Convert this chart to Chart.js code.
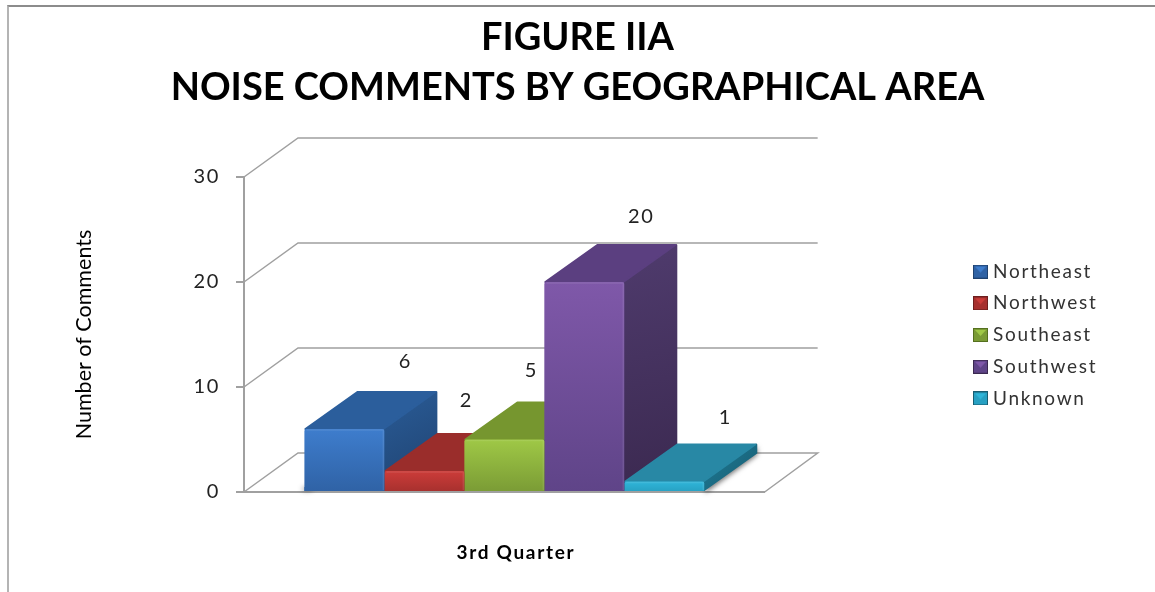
<!DOCTYPE html>
<html>
<head>
<meta charset="utf-8">
<title>Figure IIA</title>
<script src="https://cdn.jsdelivr.net/npm/chart.js@4"></script>
<style>
    html, body { margin: 0; padding: 0; background: #fff; overflow: hidden; }
    #frame { position: absolute; left: 7px; top: 5px; right: 0; bottom: 0; border-top: 2px solid #8c8c8c; border-left: 2px solid #b4b4b4; }
    #noiseChart { position: absolute; left: 0; top: 0; }
</style>
</head>
<body>
<div id="frame"></div>
<canvas id="noiseChart" width="1155" height="592"></canvas>
<script>
const categories = ['3rd Quarter'];
const seriesNames = ['Northeast', 'Northwest', 'Southeast', 'Southwest', 'Unknown'];
const seriesValues = [6, 2, 5, 20, 1];
const yTicks = [0, 10, 20, 30];
const titleLines = ['FIGURE IIA', 'NOISE COMMENTS BY GEOGRAPHICAL AREA'];

// kolory scian slupkow: przod (gora, dol), wierzch, bok (jasny, ciemny)
const frontTop = ['#3e7dcd', '#cc3c39', '#9fc846', '#7f58a9', '#2fb5d9'];
const frontBottom = ['#2f62a5', '#a6302e', '#7a9b35', '#5f4488', '#27a0c2'];
const topColors = ['#2b5e9c', '#9a2d2b', '#76962f', '#5b3f80', '#2888a5'];
const sideLight = ['#2a5c97', '#8a2826', '#6b8a2b', '#4f3b6d', '#1f7a95'];
const sideDark = ['#1f4270', '#6e1f1e', '#55701f', '#3b2950', '#175d72'];

// glebokosc "3D" w pikselach
const depthX = 52;
const depthY = -38;
const gridColor = '#a0a0a0';
const textSpacing = '1.7px';

// recznie przesuniete etykiety wartosci, wzgledem srodka wierzchu slupka
const labelShiftX = [61, 42, 27, 57, 61];
const labelShiftY = [-67, -70, -69, -65, -64];

function polygon(ctx, pts) {
    ctx.beginPath();
    pts.forEach(function (p, i) {
        if (i === 0) ctx.moveTo(p[0], p[1]);
        else ctx.lineTo(p[0], p[1]);
    });
    ctx.closePath();
}

// maly kwadrat legendy z fazowaniem
function legendMarker(i) {
    const c = document.createElement('canvas');
    c.width = 15;
    c.height = 14;
    const g = c.getContext('2d');
    g.fillStyle = sideDark[i];
    g.fillRect(0, 0, 15, 14);
    g.fillStyle = frontBottom[i];
    g.fillRect(1, 1, 13, 12);
    g.fillStyle = frontTop[i];
    polygon(g, [[2, 2], [13, 2], [7.5, 8]]);
    g.fill();
    return c;
}

function drawFaces(chart, i) {
    const bar = chart.getDatasetMeta(i).data[0];
    const ctx = chart.ctx;
    const l = bar.x - bar.width / 2;
    const r = bar.x + bar.width / 2;
    const t = bar.y;
    const b = bar.base;
    ctx.save();
    ctx.lineJoin = 'round';
    ctx.lineWidth = 2;

    // cien na podlodze przy najnizszym slupku
    if (i === seriesValues.length - 1) {
        ctx.save();
        ctx.shadowColor = 'rgba(0,0,0,0.55)';
        ctx.shadowBlur = 5;
        ctx.shadowOffsetX = 1;
        ctx.shadowOffsetY = 3;
        ctx.fillStyle = sideDark[i];
        polygon(ctx, [[r, b - 1], [r + depthX, b + depthY - 1], [r + depthX, t + depthY], [r, t]]);
        ctx.fill();
        ctx.restore();
    }
    if (i === 0) {
        ctx.save();
        ctx.shadowColor = 'rgba(0,0,0,0.35)';
        ctx.shadowBlur = 5;
        ctx.shadowOffsetX = -2;
        ctx.fillStyle = frontBottom[i];
        ctx.fillRect(l, b - 4, 10, 4);
        ctx.restore();
    }

    const side = ctx.createLinearGradient(r, t + depthY, r + depthX, b);
    side.addColorStop(0, sideLight[i]);
    side.addColorStop(1, sideDark[i]);
    ctx.fillStyle = side;
    ctx.strokeStyle = side;
    polygon(ctx, [[r, t], [r + depthX, t + depthY + 1], [r + depthX, b + depthY], [r, b - 1]]);
    ctx.fill();
    ctx.stroke();

    ctx.fillStyle = topColors[i];
    ctx.strokeStyle = topColors[i];
    polygon(ctx, [[l + 1, t], [l + depthX + 1, t + depthY + 1], [r + depthX - 1, t + depthY + 1], [r - 1, t]]);
    ctx.fill();
    ctx.stroke();
    ctx.restore();
}

// rysuje dany element bez odstepow miedzy literami
function withoutSpacing(ctx, obj, method) {
    if (obj[method].plain) return;
    const original = obj[method];
    obj[method] = function () {
        ctx.letterSpacing = '0px';
        original.apply(obj, arguments);
        ctx.letterSpacing = textSpacing;
    };
    obj[method].plain = true;
}

const box3d = {
    id: 'box3d',
    // legenda ma stac obok wykresu, nie na srodku calego obrazka
    afterLayout(chart) {
        const legend = chart.legend;
        legend.left = 964.8;
        legend.right = 1155;
        legend.top += 39;
        legend.bottom += 39;
    },
    // odstepy miedzy literami wszedzie poza tytulami
    beforeDraw(chart) {
        const ctx = chart.ctx;
        ctx.letterSpacing = textSpacing;
        withoutSpacing(ctx, chart.titleBlock, 'draw');
        withoutSpacing(ctx, chart.scales.y, 'drawTitle');
    },
    // sciany tylne i podloga, potem wierzch i bok od lewej do prawej
    beforeDatasetsDraw(chart) {
        const ctx = chart.ctx;
        const area = chart.chartArea;
        const y = chart.scales.y;
        ctx.save();
        ctx.strokeStyle = gridColor;
        ctx.lineWidth = 1.5;
        yTicks.forEach(function (v) {
            const py = y.getPixelForValue(v);
            ctx.beginPath();
            ctx.moveTo(area.left, py);
            ctx.lineTo(area.left + depthX + 2, py + depthY - 1);
            ctx.lineTo(area.right + depthX + 1, py + depthY - 1);
            if (v === 0) ctx.lineTo(area.right, py);
            ctx.stroke();
        });
        ctx.restore();
        seriesValues.forEach(function (v, i) {
            drawFaces(chart, i);
        });
    },
    // jasna krawedz przodu i etykiety wartosci
    afterDatasetsDraw(chart) {
        const ctx = chart.ctx;
        ctx.save();
        seriesValues.forEach(function (v, i) {
            const bar = chart.getDatasetMeta(i).data[0];
            const l = bar.x - bar.width / 2;
            const r = bar.x + bar.width / 2;
            ctx.strokeStyle = 'rgba(255,255,255,0.09)';
            ctx.lineWidth = 1.5;
            ctx.beginPath();
            ctx.moveTo(l + 2, bar.y + 1);
            ctx.lineTo(r - 1, bar.y + 1);
            ctx.lineTo(r - 1, bar.base - 1);
            ctx.stroke();
        });
        ctx.font = '20px Lato';
        ctx.fillStyle = '#222';
        ctx.textAlign = 'center';
        ctx.textBaseline = 'middle';
        seriesValues.forEach(function (v, i) {
            const bar = chart.getDatasetMeta(i).data[0];
            ctx.fillText(String(v), bar.x + labelShiftX[i], bar.y + labelShiftY[i]);
        });
        ctx.restore();
    }
};

function frontGradient(context) {
    const chart = context.chart;
    const i = context.datasetIndex;
    if (!chart.chartArea) return frontTop[i];
    const y = chart.scales.y;
    const g = chart.ctx.createLinearGradient(0, y.getPixelForValue(seriesValues[i]), 0, y.getPixelForValue(0));
    g.addColorStop(0, frontTop[i]);
    g.addColorStop(1, frontBottom[i]);
    return g;
}

const datasets = seriesNames.map(function (name, i) {
    return {
        label: name,
        data: [seriesValues[i]],
        backgroundColor: frontGradient,
        borderRadius: { topLeft: 2, topRight: 2 },
        borderSkipped: false
    };
});

new Chart(document.getElementById('noiseChart').getContext('2d'), {
    type: 'bar',
    data: { labels: categories, datasets: datasets },
    plugins: [box3d],
    options: {
        responsive: false,
        animation: false,
        datasets: { bar: { categoryPercentage: 0.768, barPercentage: 1 } },
        plugins: {
            tooltip: { enabled: false },
            title: {
                display: true,
                text: titleLines,
                color: '#000',
                font: { family: 'Lato', size: 38, weight: 'bold', lineHeight: 1.316 },
                padding: { top: 13, bottom: 64 }
            },
            legend: {
                position: 'right',
                labels: {
                    color: '#333',
                    font: { family: 'Lato', size: 19 },
                    padding: 12.7,
                    usePointStyle: true,
                    pointStyleWidth: 6,
                    generateLabels: function (chart) {
                        return seriesNames.map(function (name, i) {
                            return { text: name, pointStyle: legendMarker(i), datasetIndex: i, fontColor: '#333', lineWidth: 0, strokeStyle: 'transparent', fillStyle: frontTop[i] };
                        });
                    }
                }
            }
        },
        scales: {
            x: {
                grid: { display: false },
                border: { color: gridColor, width: 2 },
                ticks: { color: '#000', font: { family: 'Lato', size: 19, weight: 'bold' }, padding: 41, labelOffset: 11.5 },
                afterFit: function (s) { s.height = 100; }
            },
            y: {
                min: 0,
                max: 30,
                afterFit: function (s) { s.width = 244; },
                border: { color: gridColor, width: 2 },
                grid: { drawOnChartArea: false, color: gridColor, lineWidth: 2, tickLength: 8 },
                ticks: { stepSize: 10, color: '#222', font: { family: 'Lato', size: 20 }, padding: 16 },
                title: { display: true, text: 'Number of Comments', color: '#000', font: { family: 'Lato', size: 21.5 }, padding: { top: 71, bottom: 0 } }
            },
            // pusta os po prawej, trzyma odstep miedzy wykresem a legenda
            spacer: {
                position: 'right',
                grid: { display: false },
                border: { display: false },
                ticks: { display: false },
                afterFit: function (s) { s.width = 263; }
            }
        }
    }
});
</script>
</body>
</html>
